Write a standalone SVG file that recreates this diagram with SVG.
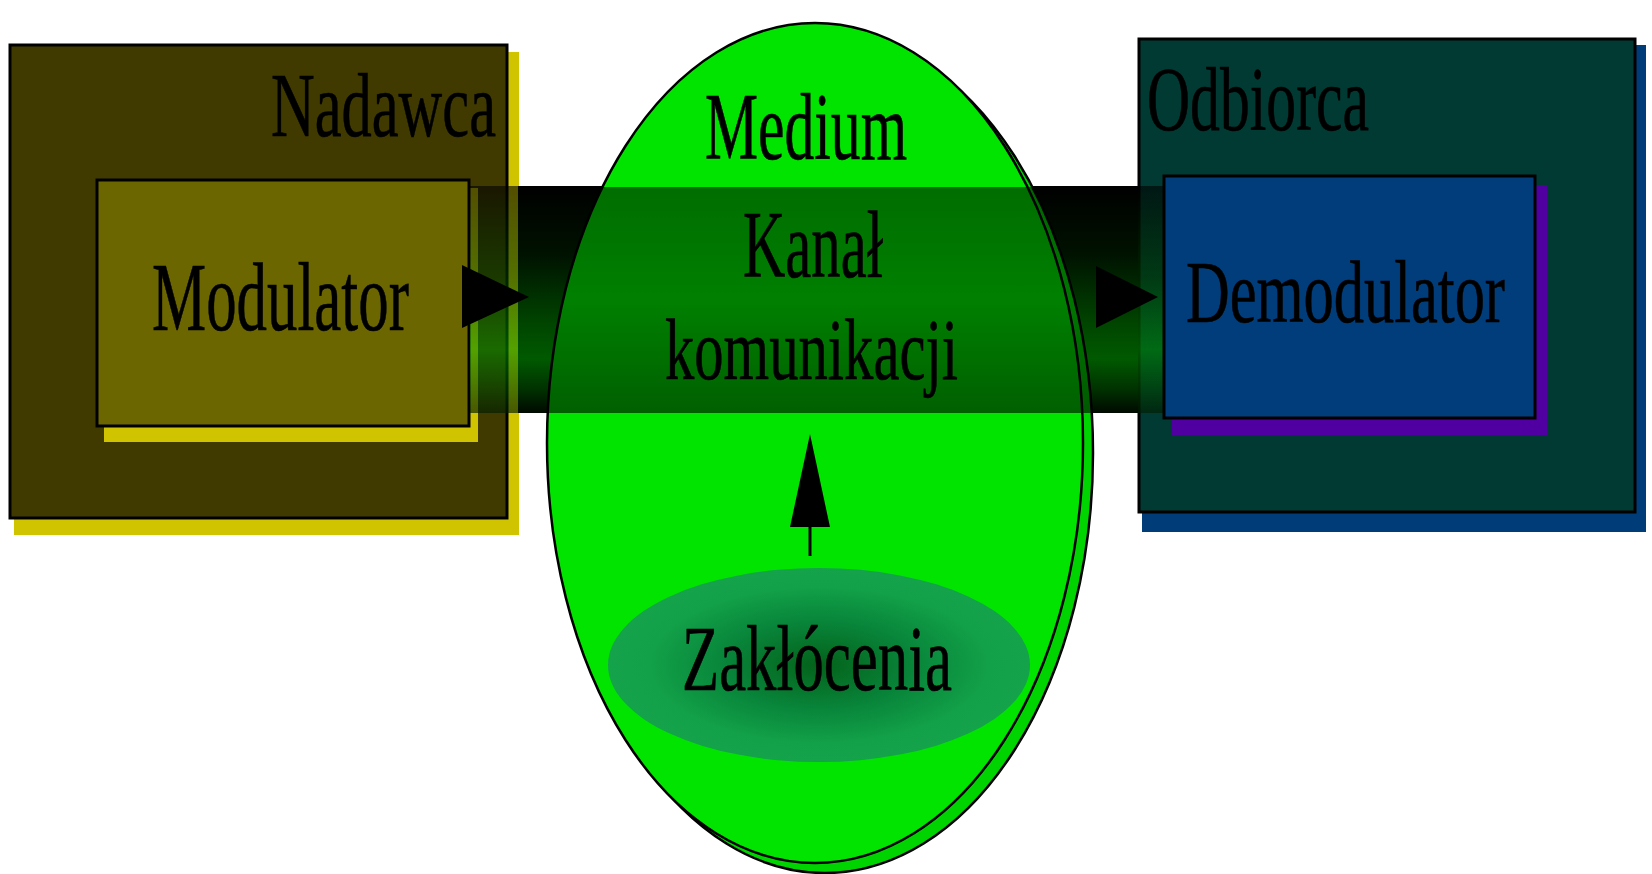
<svg xmlns="http://www.w3.org/2000/svg" width="1652" height="874" viewBox="0 0 1652 874">
  <style>
    .lbl { font-family: "Liberation Serif", "Times New Roman", serif; fill: #000; stroke: #000; stroke-width: 0.6; }
    .box { stroke: #000; stroke-width: 3; }
    .oval { stroke: #000; stroke-width: 2.5; }
    .head { fill: #000; }
  </style>
  <defs>
    <!-- opaque pipe shading where the channel crosses empty space -->
    <linearGradient id="pipe" x1="0" y1="0" x2="0" y2="1">
      <stop offset="0" stop-color="#000000"/>
      <stop offset="0.3" stop-color="#001200"/>
      <stop offset="0.6" stop-color="#004400"/>
      <stop offset="0.76" stop-color="#005a00"/>
      <stop offset="0.9" stop-color="#003000"/>
      <stop offset="1" stop-color="#000a00"/>
    </linearGradient>
    <!-- translucent pipe shading where the channel crosses the boxes -->
    <linearGradient id="pipeGlass" x1="0" y1="0" x2="0" y2="1">
      <stop offset="0" stop-color="#000000" stop-opacity="0.6"/>
      <stop offset="0.4" stop-color="#003800" stop-opacity="0.6"/>
      <stop offset="0.72" stop-color="#008a00" stop-opacity="0.6"/>
      <stop offset="1" stop-color="#001c00" stop-opacity="0.65"/>
    </linearGradient>
    <!-- darkening of the channel inside the medium -->
    <linearGradient id="pipeShade" x1="0" y1="0" x2="0" y2="1">
      <stop offset="0" stop-color="#000" stop-opacity="0.52"/>
      <stop offset="0.5" stop-color="#000" stop-opacity="0.44"/>
      <stop offset="1" stop-color="#000" stop-opacity="0.58"/>
    </linearGradient>
    <radialGradient id="noise" cx="0.5" cy="0.5" r="0.5">
      <stop offset="0" stop-color="#04621a"/>
      <stop offset="0.45" stop-color="#08853a"/>
      <stop offset="0.8" stop-color="#12a048"/>
      <stop offset="1" stop-color="#14a24a"/>
    </radialGradient>
    <clipPath id="mediumClip">
      <ellipse cx="815" cy="443" rx="268" ry="420"/>
      <ellipse cx="825" cy="453" rx="268" ry="420"/>
    </clipPath>
  </defs>

  <rect width="1652" height="874" fill="#fff"/>

  <!-- sender -->
  <g id="nadawca">
    <rect x="14" y="52" width="505" height="483" fill="#d0c400"/>
    <rect class="box" x="10" y="45" width="497" height="473" fill="#403a00"/>
    <text class="lbl" x="271" y="136" font-size="92" textLength="225" lengthAdjust="spacingAndGlyphs">Nadawca</text>
  </g>

  <g id="modulator">
    <rect x="104" y="188" width="374" height="254" fill="#d0c400"/>
    <rect class="box" x="97" y="180" width="372" height="246" fill="#6b6600"/>
    <text class="lbl" x="152" y="330" font-size="98" textLength="257" lengthAdjust="spacingAndGlyphs">Modulator</text>
  </g>

  <!-- receiver -->
  <g id="odbiorca">
    <rect x="1142" y="45" width="504" height="487" fill="#003c78"/>
    <rect class="box" x="1139" y="39" width="496" height="473" fill="#013a33"/>
    <text class="lbl" x="1147" y="130" font-size="90" textLength="222" lengthAdjust="spacingAndGlyphs">Odbiorca</text>
  </g>

  <!-- communication channel (pipe) -->
  <g id="channel">
    <rect x="518" y="186" width="620" height="227" fill="url(#pipe)"/>
    <rect x="470" y="186" width="48" height="227" fill="url(#pipeGlass)"/>
    <rect x="1138" y="186" width="26" height="227" fill="url(#pipeGlass)"/>
  </g>

  <g id="demodulator">
    <rect x="1172" y="185" width="375" height="250" fill="#5000a0"/>
    <rect class="box" x="1164" y="176" width="371" height="242" fill="#003d7a"/>
    <text class="lbl" x="1186" y="322" font-size="88" textLength="319" lengthAdjust="spacingAndGlyphs">Demodulator</text>
  </g>

  <!-- transmission medium -->
  <g id="medium">
    <ellipse class="oval" cx="825" cy="453" rx="268" ry="420" fill="#00d400"/>
    <ellipse class="oval" cx="815" cy="443" rx="268" ry="420" fill="#00e400"/>
    <rect x="540" y="187" width="560" height="226" fill="url(#pipeShade)" clip-path="url(#mediumClip)"/>
    <text class="lbl" x="705" y="159" font-size="95" textLength="202" lengthAdjust="spacingAndGlyphs">Medium</text>
    <text class="lbl" x="743" y="277" font-size="96" textLength="140" lengthAdjust="spacingAndGlyphs">Kanał</text>
    <text class="lbl" x="665" y="379" font-size="86" textLength="293" lengthAdjust="spacingAndGlyphs">komunikacji</text>
  </g>

  <!-- interference -->
  <g id="zaklocenia">
    <ellipse cx="819" cy="665" rx="211" ry="97" fill="url(#noise)"/>
    <text class="lbl" x="682" y="690" font-size="94" textLength="270" lengthAdjust="spacingAndGlyphs">Zakłócenia</text>
  </g>

  <!-- arrows -->
  <g id="connectors">
    <polygon class="head" points="462,265 529,297 462,328"/>
    <polygon class="head" points="1096,266 1158,297 1096,328"/>
    <line x1="810" y1="525" x2="810" y2="556" stroke="#000" stroke-width="3"/>
    <polygon class="head" points="810,434 830,527 790,527"/>
  </g>
</svg>
